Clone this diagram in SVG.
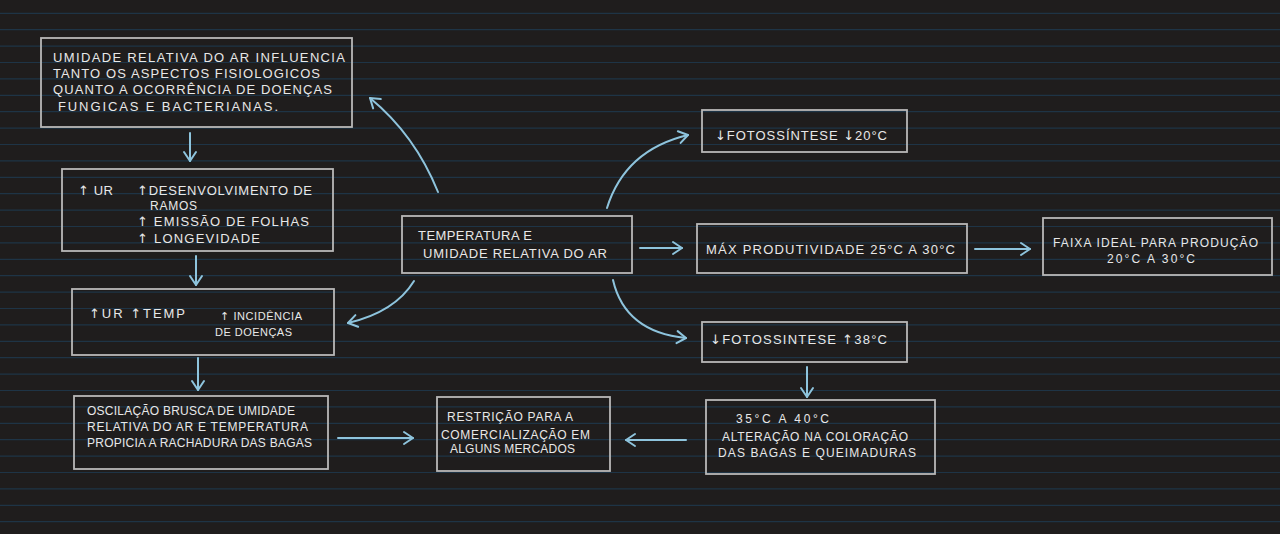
<svg xmlns="http://www.w3.org/2000/svg" width="1280" height="534" viewBox="0 0 1280 534">
<style>
.bg{fill:#1f1d1d}
.rule{stroke:#1e3446;stroke-width:1.2;fill:none}
.box{fill:none;stroke:#b8b8b8;stroke-width:1.8}
.t{font-family:"Liberation Sans","DejaVu Sans",sans-serif;fill:#e8e8e8;font-size:13px}
.s{font-size:12px}
.xs{font-size:11px}
.ar{font-family:"DejaVu Sans",sans-serif}
.c{fill:none;stroke:#8ec4dd;stroke-width:2;stroke-linecap:round;stroke-linejoin:round}
</style>
<defs>
<marker id="ah" viewBox="-12 -8 14 16" markerWidth="14" markerHeight="16" refX="0" refY="0" orient="auto" markerUnits="userSpaceOnUse">
<path d="M-9,-6 L0,0 L-9,6" fill="none" stroke="#8ec4dd" stroke-width="2" stroke-linecap="round" stroke-linejoin="round"/>
</marker>
</defs>
<rect class="bg" x="0" y="0" width="1280" height="534"/>
<path class="rule" d="M0,13.3H1280M0,29.7H1280M0,46.1H1280M0,62.5H1280M0,78.9H1280M0,95.3H1280M0,111.7H1280M0,128.1H1280M0,144.5H1280M0,160.9H1280M0,177.3H1280M0,193.7H1280M0,210.1H1280M0,226.5H1280M0,242.9H1280M0,259.3H1280M0,275.7H1280M0,292.1H1280M0,308.5H1280M0,324.9H1280M0,341.3H1280M0,357.7H1280M0,374.1H1280M0,390.5H1280M0,406.9H1280M0,423.3H1280M0,439.7H1280M0,456.1H1280M0,472.5H1280M0,488.9H1280M0,505.3H1280M0,521.7H1280"/>

<g id="connectors">
<path class="c" marker-end="url(#ah)" d="M190,133 L190,161"/>
<path class="c" marker-end="url(#ah)" d="M196,256 L196,285"/>
<path class="c" marker-end="url(#ah)" d="M198,358 L198,390"/>
<path class="c" marker-end="url(#ah)" d="M338,438 L413,438"/>
<path class="c" marker-end="url(#ah)" d="M686,440 L626,440"/>
<path class="c" marker-end="url(#ah)" d="M807,367 L807,397"/>
<path class="c" marker-end="url(#ah)" d="M438,192 Q415,135 370,98"/>
<path class="c" marker-end="url(#ah)" d="M607,208 Q625,150 688,135"/>
<path class="c" marker-end="url(#ah)" d="M640,248 L682,248"/>
<path class="c" marker-end="url(#ah)" d="M414,281 Q395,312 348,323"/>
<path class="c" marker-end="url(#ah)" d="M613,280 Q625,332 686,338"/>
<path class="c" marker-end="url(#ah)" d="M975,249 L1030,249"/>
</g>

<g id="n-umidade">
<rect class="box" x="41" y="38" width="311" height="89"/>
<text class="t" font-size="14" x="53" y="62" textLength="292" lengthAdjust="spacing">UMIDADE RELATIVA DO AR INFLUENCIA</text>
<text class="t" x="53" y="78" textLength="267" lengthAdjust="spacing">TANTO OS ASPECTOS FISIOLOGICOS</text>
<text class="t" x="53" y="94" textLength="279" lengthAdjust="spacing">QUANTO A OCORRÊNCIA DE DOENÇAS</text>
<text class="t" x="58" y="111" textLength="220" lengthAdjust="spacing">FUNGICAS E BACTERIANAS.</text>
</g>

<g id="n-ur">
<rect class="box" x="62" y="169" width="271" height="82"/>
<text class="t" x="78" y="195" textLength="35" lengthAdjust="spacing"><tspan class="ar">↑</tspan> UR</text>
<text class="t" x="137" y="195" textLength="175" lengthAdjust="spacing"><tspan class="ar">↑</tspan>DESENVOLVIMENTO DE</text>
<text class="t s" x="150" y="210" textLength="47" lengthAdjust="spacing">RAMOS</text>
<text class="t" x="137" y="226" textLength="172" lengthAdjust="spacing"><tspan class="ar">↑</tspan> EMISSÃO DE FOLHAS</text>
<text class="t" x="137" y="243" textLength="123" lengthAdjust="spacing"><tspan class="ar">↑</tspan> LONGEVIDADE</text>
</g>

<g id="n-ur-temp">
<rect class="box" x="72" y="289" width="262" height="66"/>
<text class="t" x="89" y="318" textLength="96" lengthAdjust="spacing"><tspan class="ar">↑</tspan>UR <tspan class="ar">↑</tspan>TEMP</text>
<text class="t xs" x="220" y="320" textLength="82" lengthAdjust="spacing"><tspan class="ar">↑</tspan> INCIDÊNCIA</text>
<text class="t xs" x="215" y="336" textLength="77" lengthAdjust="spacing">DE DOENÇAS</text>
</g>

<g id="n-oscilacao">
<rect class="box" x="74" y="396" width="254" height="73"/>
<text class="t s" x="87" y="415" textLength="208" lengthAdjust="spacing">OSCILAÇÃO BRUSCA DE UMIDADE</text>
<text class="t s" x="87" y="431" textLength="221" lengthAdjust="spacing">RELATIVA DO AR E TEMPERATURA</text>
<text class="t s" x="87" y="447" textLength="225" lengthAdjust="spacing">PROPICIA A RACHADURA DAS BAGAS</text>
</g>

<g id="n-centro">
<rect class="box" x="402" y="216" width="230" height="57"/>
<text class="t" x="418" y="240" textLength="114" lengthAdjust="spacing">TEMPERATURA E</text>
<text class="t" x="423" y="258" textLength="184" lengthAdjust="spacing">UMIDADE RELATIVA DO AR</text>
</g>

<g id="n-restricao">
<rect class="box" x="437" y="397" width="173" height="74"/>
<text class="t s" x="447" y="421" textLength="126" lengthAdjust="spacing">RESTRIÇÃO PARA A</text>
<text class="t s" x="441" y="439" textLength="149" lengthAdjust="spacing">COMERCIALIZAÇÃO EM</text>
<text class="t s" x="450" y="453" textLength="125" lengthAdjust="spacing">ALGUNS MERCADOS</text>
</g>

<g id="n-foto20">
<rect class="box" x="702" y="110" width="205" height="42"/>
<text class="t" x="715" y="140" textLength="172" lengthAdjust="spacing"><tspan class="ar">↓</tspan>FOTOSSÍNTESE <tspan class="ar">↓</tspan>20°C</text>
</g>

<g id="n-max">
<rect class="box" x="697" y="224" width="270" height="49"/>
<text class="t" x="706" y="254" textLength="249" lengthAdjust="spacing">MÁX PRODUTIVIDADE 25°C A 30°C</text>
</g>

<g id="n-faixa">
<rect class="box" x="1043" y="218" width="229" height="57"/>
<text class="t s" x="1053" y="247" textLength="205" lengthAdjust="spacing">FAIXA IDEAL PARA PRODUÇÃO</text>
<text class="t s" x="1107" y="263" textLength="88" lengthAdjust="spacing">20°C A 30°C</text>
</g>

<g id="n-foto38">
<rect class="box" x="702" y="322" width="205" height="40"/>
<text class="t" x="710" y="344" textLength="177" lengthAdjust="spacing"><tspan class="ar">↓</tspan>FOTOSSINTESE <tspan class="ar">↑</tspan>38°C</text>
</g>

<g id="n-35a40">
<rect class="box" x="706" y="400" width="229" height="74"/>
<text class="t s" x="736" y="423" textLength="93" lengthAdjust="spacing">35°C A 40°C</text>
<text class="t s" x="722" y="441" textLength="186" lengthAdjust="spacing">ALTERAÇÃO NA COLORAÇÃO</text>
<text class="t s" x="718" y="457" textLength="198" lengthAdjust="spacing">DAS BAGAS E QUEIMADURAS</text>
</g>
</svg>
